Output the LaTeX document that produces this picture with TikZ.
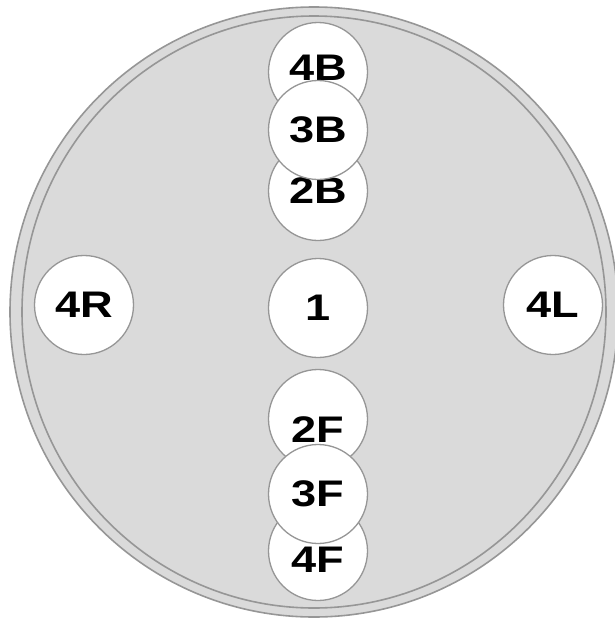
\documentclass[tikz,border=0pt]{standalone}
\usepackage{fontspec}
\setsansfont{Liberation Sans}[FakeStretch=1.22]
\definecolor{padgray}{RGB}{218,218,218}
\definecolor{rimgray}{RGB}{150,150,150}
\tikzset{
  seat/.style={circle,draw=rimgray,line width=1.3pt,fill=white,minimum size=99pt,inner sep=0pt,
    font=\sffamily\bfseries\fontsize{37}{37}\selectfont},
  seatlbl/.style={font=\sffamily\bfseries\fontsize{37}{37}\selectfont}
}
\begin{document}
\begin{tikzpicture}[x=1pt,y=-1pt]
\useasboundingbox (0,0) rectangle (614,619);
\fill[padgray] (314,312) ellipse [x radius=304,y radius=305];
\draw[rimgray,line width=1.6pt] (314,312) ellipse [x radius=304,y radius=305];
\draw[rimgray,line width=1.6pt] (314,312) ellipse [x radius=292,y radius=296];
\node[seat] (s1) at (318,308) {1};
\node[seat] (s4R) at (84,305) {4R};
\node[seat] (s4L) at (553,305) {4L};
\node[seat,label={[seatlbl,yshift=4pt]center:4B}] (s4B) at (318,72) {};
\node[seat] (s2B) at (318,191) {2B};
\node[seat] (s3B) at (318,130) {3B};
\node[seat,label={[seatlbl,yshift=-11pt]center:2F}] (s2F) at (318,419) {};
\node[seat,label={[seatlbl,yshift=-9pt]center:4F}] (s4F) at (318,551) {};
\node[seat] (s3F) at (318,494) {3F};
\end{tikzpicture}
\end{document}
